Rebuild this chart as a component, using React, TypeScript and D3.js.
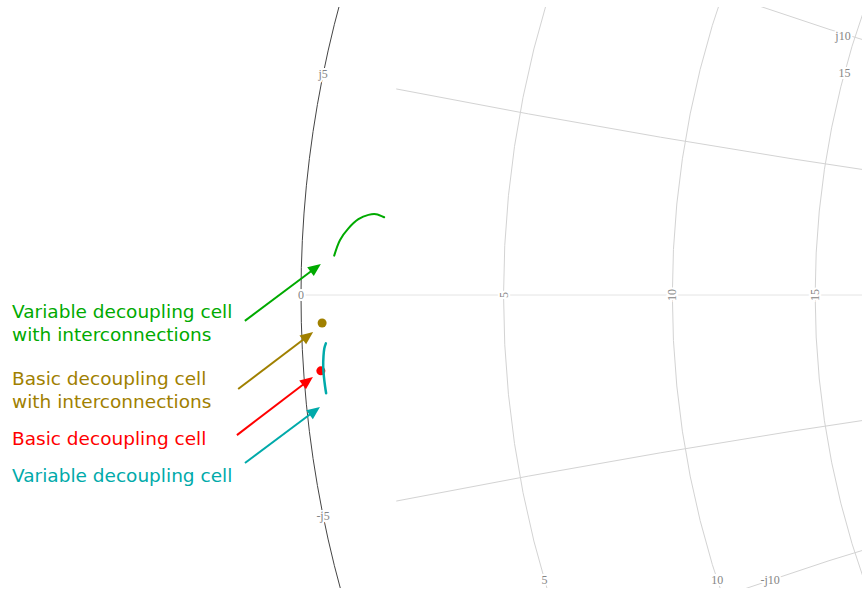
import React from "react";
import * as d3 from "d3";

const W = 862;
const H = 592;
const Z0 = 50;

// grid ticks (ohms)
const realTicks = [0, 5, 10, 15];
const imagTicks = [5, 10, -5, -10];
const imagGridStartR = 1.75;

// series (ohms): resistance / reactance
const greenR = [0.74, 0.86, 1.04, 1.26, 1.49, 1.67, 1.87];
const greenX = [0.91, 1.28, 1.56, 1.79, 1.91, 1.94, 1.88];
const tealR = [0.54, 0.5, 0.47, 0.45, 0.45, 0.46, 0.47];
const tealX = [-1.11, -1.22, -1.41, -1.64, -1.87, -2.1, -2.25];
const oliveR = [0.47];
const oliveX = [-0.64];
const redR = [0.39];
const redX = [-1.73];

const GREEN = "#00aa00";
const OLIVE = "#a08000";
const RED = "#ff0000";
const TEAL = "#00aaaa";

const annotations = [
  { lines: ["Variable decoupling cell", "with interconnections"], color: GREEN, tipR: 0.44, tipX: 0.71, ax: -76, ay: 57, tx: 12, ty: 318 },
  { lines: ["Basic decoupling cell", "with interconnections"], color: OLIVE, tipR: 0.26, tipX: -0.84, ax: -75, ay: 57, tx: 12, ty: 385 },
  { lines: ["Basic decoupling cell"], color: RED, tipR: 0.2, tipX: -1.86, ax: -76, ay: 58, tx: 12, ty: 445 },
  { lines: ["Variable decoupling cell"], color: TEAL, tipR: 0.3, tipX: -2.55, ax: -75, ay: 56, tx: 12, ty: 482 },
];

// Smith chart geometry scales (reflection coefficient -> pixels)
const RAD = 1114;
const LEFT = 301;
const MIDY = 295;
const sx = d3.scaleLinear().domain([-1, 1]).range([LEFT, LEFT + 2 * RAD]);
const sy = d3.scaleLinear().domain([-1, 1]).range([MIDY + RAD, MIDY - RAD]);

function gamma(r: number, x: number): [number, number] {
  const a = r / Z0, b = x / Z0;
  const nr = a - 1, ni = b, dr = a + 1, di = b;
  const den = dr * dr + di * di;
  return [(nr * dr + ni * di) / den, (ni * dr - nr * di) / den];
}
function pt(r: number, x: number): [number, number] {
  const g = gamma(r, x);
  return [sx(g[0]), sy(g[1])];
}
function rCircle(r: number) {
  const a = r / Z0;
  const c = a / (a + 1);
  const rad = 1 / (a + 1);
  return { cx: sx(c), cy: sy(0), r: sx(c + rad) - sx(c) };
}
function xCircle(x: number) {
  const b = x / Z0;
  return { cx: sx(1), cy: sy(1 / b), r: sx(1 / Math.abs(b)) - sx(0) };
}
const atY = (c: { cx: number; cy: number; r: number }, y: number, side: number) =>
  c.cx + side * Math.sqrt(c.r * c.r - (y - c.cy) * (y - c.cy));
const atX = (c: { cx: number; cy: number; r: number }, x: number, side: number) =>
  c.cy + side * Math.sqrt(c.r * c.r - (x - c.cx) * (x - c.cx));

function xArcPath(x: number) {
  const c = xCircle(x);
  const [px, py] = pt(imagGridStartR, x);
  const a0 = Math.atan2(py - c.cy, px - c.cx);
  const a1 = Math.atan2(sy(0) - c.cy, sx(1) - c.cx);
  const p = d3.path();
  p.moveTo(px, py);
  p.arc(c.cx, c.cy, c.r, a0, a1, x > 0);
  return p.toString();
}

const line = d3.line<[number, number]>().curve(d3.curveCatmullRom);

const GRID = "#d3d3d3";
const TICK = "#858585";
const tickFont = { fontFamily: "'Liberation Serif', serif", fontSize: 12 };

function Label({ x, y, text, rotate }: { x: number; y: number; text: string; rotate?: boolean }) {
  return (
    <text
      x={x}
      y={y}
      transform={rotate ? `rotate(-90 ${x} ${y})` : undefined}
      textAnchor="middle"
      dominantBaseline="central"
      fill={TICK}
      stroke="#fff"
      strokeWidth={4}
      paintOrder="stroke"
      style={tickFont}
    >
      {text}
    </text>
  );
}

export default function App() {
  const greenPts = greenR.map((r, i) => pt(r, greenX[i]));
  const tealPts = tealR.map((r, i) => pt(r, tealX[i]));

  const c5 = rCircle(5), c10 = rCircle(10), c15 = rCircle(15);
  const xm10 = xCircle(-10), xp10 = xCircle(10);

  return (
    <svg width={W} height={H} style={{ position: "absolute", left: 0, top: 0, background: "#fff" }}>
      <defs>
        <clipPath id="plotclip">
          <rect x={0} y={7} width={W} height={581} />
        </clipPath>
      </defs>
      <g clipPath="url(#plotclip)">
        <line x1={sx(-1)} x2={sx(1)} y1={sy(0)} y2={sy(0)} stroke="#e4e4e4" strokeWidth={1} />
        {realTicks.map((r) => {
          const c = rCircle(r);
          return (
            <circle key={"r" + r} cx={c.cx} cy={c.cy} r={c.r} fill="none"
              stroke={r === 0 ? "#444" : GRID} strokeWidth={1} />
          );
        })}
        {imagTicks.map((x) => (
          <path key={"x" + x} d={xArcPath(x)} fill="none" stroke={GRID} strokeWidth={1} />
        ))}
      </g>

      {realTicks.map((r) => {
        const [px, py] = pt(r, 0);
        return <Label key={"rl" + r} x={px} y={py} text={String(r)} rotate={r !== 0} />;
      })}
      {[5, -5].map((x) => {
        const [px, py] = pt(0, x);
        return <Label key={"xl" + x} x={px} y={py} text={(x < 0 ? "-j" : "j") + Math.abs(x)} />;
      })}
      <Label x={atY(c5, 580, -1)} y={580} text="5" />
      <Label x={atY(c10, 580, -1)} y={580} text="10" />
      <Label x={atY(xm10, 580, -1)} y={580} text="-j10" />
      <Label x={843} y={atX(xp10, 843, 1) + 2} text="j10" />
      <Label x={atY(c15, 73, -1)} y={73} text="15" />

      {redR.map((r, i) => {
        const [px, py] = pt(r, redX[i]);
        return <circle key={"red" + i} cx={px} cy={py} r={4.5} fill={RED} />;
      })}
      {oliveR.map((r, i) => {
        const [px, py] = pt(r, oliveX[i]);
        return <circle key={"ol" + i} cx={px} cy={py} r={4.5} fill={OLIVE} />;
      })}
      <path d={line(greenPts) || ""} fill="none" stroke={GREEN} strokeWidth={2} strokeLinecap="round" />
      <path d={line(tealPts) || ""} fill="none" stroke={TEAL} strokeWidth={2.5} strokeLinecap="round" />

      {annotations.map((a, i) => {
        const [tx, ty] = pt(a.tipR, a.tipX);
        const sx0 = tx + a.ax, sy0 = ty + a.ay;
        const dx = tx - sx0, dy = ty - sy0;
        const len = Math.hypot(dx, dy);
        const ux = dx / len, uy = dy / len;
        const hl = 13, hw = 5.5;
        const bx = tx - ux * hl, by = ty - uy * hl;
        const head = `${tx},${ty} ${bx - uy * hw},${by + ux * hw} ${bx + uy * hw},${by - ux * hw}`;
        return (
          <g key={"ann" + i}>
            <line x1={sx0} y1={sy0} x2={bx + ux * 2} y2={by + uy * 2} stroke={a.color} strokeWidth={2} />
            <polygon points={head} fill={a.color} />
            {a.lines.map((t, j) => (
              <text key={j} x={a.tx} y={a.ty + j * 23} fill={a.color}
                style={{ fontFamily: "'DejaVu Sans', Verdana, sans-serif", fontSize: 18.5 }}>
                {t}
              </text>
            ))}
          </g>
        );
      })}
    </svg>
  );
}
